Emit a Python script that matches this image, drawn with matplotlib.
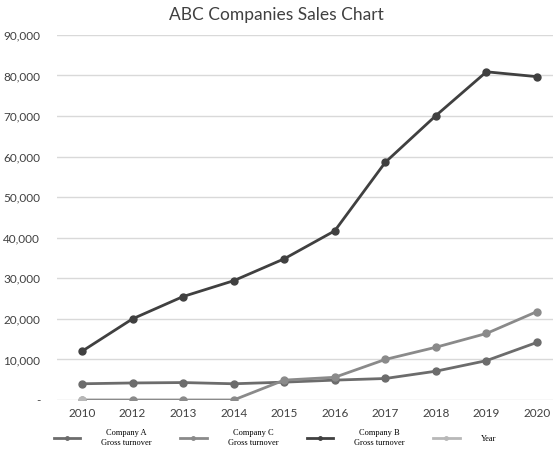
import matplotlib.pyplot as plt
from matplotlib.ticker import FuncFormatter
import numpy as np

years = ['2010', '2012', '2013', '2014', '2015', '2016', '2017', '2018', '2019', '2020']
company_a = [4000, 4200, 4300, 4000, 4400, 4900, 5300, 7100, 9700, 14200]
company_c = [0, 0, 0, 0, 4900, 5600, 10000, 13000, 16400, 21800]
company_b = [12000, 20000, 25500, 29400, 34800, 41700, 58600, 70100, 80900, 79700]
year_series = [0, np.nan, np.nan, np.nan, np.nan, np.nan, np.nan, np.nan, np.nan, np.nan]

labels = ['Company A\nGross turnover', 'Company C\nGross turnover',
          'Company B\nGross turnover', 'Year']
colors = ['#6c6c6c', '#8a8a8a', '#404040', '#b8b8b8']

fig = plt.figure(figsize=(5.53, 4.53), dpi=100)
ax = fig.add_axes([0.103, 0.117, 0.897, 0.806])

x = np.arange(len(years))
ha, = ax.plot(x, company_a, color=colors[0], lw=2, marker='o', ms=5, zorder=3)
hc, = ax.plot(x, company_c, color=colors[1], lw=2, marker='o', ms=5, zorder=3)
hb, = ax.plot(x, company_b, color=colors[2], lw=2, marker='o', ms=5, zorder=3)
hy, = ax.plot(x, year_series, color=colors[3], lw=2, marker='o', ms=5, zorder=4)

ax.set_xlim(-0.494, 9.316)
ax.set_ylim(0, 90000)
ax.set_yticks(np.arange(0, 90001, 10000))
ax.yaxis.set_major_formatter(FuncFormatter(lambda v, p: '-' if v == 0 else f'{int(v):,}'))
ax.set_xticks(x)
ax.set_xticklabels(years)
ax.grid(axis='y', color='#d9d9d9', lw=1)
ax.set_axisbelow(True)
for s in ax.spines.values():
    s.set_visible(False)
ax.tick_params(length=0, labelsize=8.5, colors='#404040', pad=6)
ax.tick_params(axis='y', pad=12)
for t in ax.get_xticklabels() + ax.get_yticklabels():
    t.set_family('Lato')

fig.text(0.5, 0.966, 'ABC Companies Sales Chart', ha='center', va='center',
         fontsize=12.5, color='#404040', family='Lato')

leg = fig.legend([ha, hc, hb, hy], labels, loc='center', ncol=4,
                 bbox_to_anchor=(0.497, 0.033), frameon=False,
                 prop={'family': 'Liberation Serif', 'size': 6},
                 handlelength=3.2, handletextpad=2.5, columnspacing=3.4,
                 markerscale=0.5)
for t in leg.get_texts():
    t.set_multialignment('center')

fig.savefig('out.png', dpi=100)
